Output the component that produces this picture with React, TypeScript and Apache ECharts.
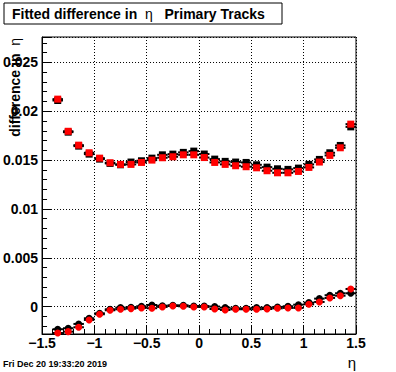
import React, { useEffect, useRef } from "react";
import * as echarts from "echarts";

// bin centres in eta
const eta = [
  -1.35, -1.25, -1.15, -1.05, -0.95, -0.85, -0.75, -0.65, -0.55, -0.45,
  -0.35, -0.25, -0.15, -0.05, 0.05, 0.15, 0.25, 0.35, 0.45, 0.55,
  0.65, 0.75, 0.85, 0.95, 1.05, 1.15, 1.25, 1.35, 1.45,
];
const binHalfWidth = 0.05;

// upper band (squares)
const topBlack = [
  0.0211, 0.01786, 0.01643, 0.01561, 0.0151, 0.01466, 0.01452, 0.0148, 0.01493, 0.0152,
  0.01554, 0.01561, 0.01579, 0.01592, 0.01562, 0.0151, 0.01487, 0.0148, 0.01476, 0.01452,
  0.01428, 0.01411, 0.01405, 0.01418, 0.01456, 0.01507, 0.01575, 0.0165, 0.0184,
];
const topRed = [
  0.02124, 0.01795, 0.01653, 0.01575, 0.0152, 0.01473, 0.01456, 0.01456, 0.01476, 0.015,
  0.01524, 0.01534, 0.01554, 0.01554, 0.01526, 0.01476, 0.01456, 0.01442, 0.01432, 0.01421,
  0.01391, 0.0137, 0.0137, 0.01384, 0.01425, 0.0148, 0.01548, 0.01626, 0.01868,
];

// lower band (circles)
const bottomBlack = [
  -0.00231, -0.00221, -0.00177, -0.00119, -0.00068, -0.00027, -0.0001, -0.00006, 0.00004, 0.00017,
  0.0001, 0.00014, 0.00014, 0.00007, 0.00006, 0.00001, -0.0001, -0.00017, -0.00017, -0.0001,
  -0.0001, -0.00003, 0.00004, 0.0002, 0.00041, 0.00082, 0.00117, 0.00137, 0.00137,
];
const bottomRed = [
  -0.0027, -0.00256, -0.00211, -0.00136, -0.00078, -0.00037, -0.00027, -0.0002, -0.00013, -0.00016,
  -0.00003, 0.00007, 0.00004, -0.00003, -0.00003, -0.00024, -0.00034, -0.00027, -0.00027, -0.00027,
  -0.00024, -0.00017, -0.00013, -0.00013, 0.00024, 0.00048, 0.00089, 0.00112, 0.00181,
];

const xRange = [-1.5, 1.5];
const xStep = 0.5;
const yRange = [-0.0028, 0.0276];
const yStep = 0.005;

const titleText = "{b|Fitted difference in  }{s|η}{b|   Primary Tracks}";
const yTitle = "{b|difference in  }{s|η}";
const xTitle = "η";
const dateText = "Fri Dec 20 19:33:20 2019";

const FONT = '"Liberation Sans", Arial, Helvetica, sans-serif';

export default function App() {
  const ref = useRef<HTMLDivElement>(null);

  useEffect(() => {
    if (!ref.current) return;
    const chart = echarts.init(ref.current, null, { renderer: "svg" });
    const pairs = (ys: number[]) => eta.map((x, i) => [x, ys[i]]);

    const errSeries = (ys: number[], z: number) => ({
      type: "custom",
      data: pairs(ys),
      clip: false,
      silent: true,
      z,
      encode: { x: 0, y: 1 },
      renderItem: (_p: any, api: any) => {
        const x = api.value(0);
        const y = api.value(1);
        const a = api.coord([x - binHalfWidth, y]);
        const b = api.coord([x + binHalfWidth, y]);
        return {
          type: "line",
          shape: { x1: a[0], y1: a[1], x2: b[0], y2: b[1] },
          style: { stroke: "#000", lineWidth: 2 },
        };
      },
    });

    const markers = (ys: number[], symbol: string, color: string, z: number) => ({
      type: "scatter",
      data: pairs(ys),
      symbol,
      symbolSize: 7,
      itemStyle: { color, opacity: 1, borderWidth: 0 },
      clip: false,
      silent: true,
      z,
    });

    const labelStyle = {
      color: "#000",
      fontSize: 14,
      fontWeight: "bold" as const,
      fontFamily: FONT,
    };

    const rich = {
      b: { fontSize: 14, fontWeight: "bold", fontFamily: FONT, fill: "#000", color: "#000" },
      s: { fontSize: 14, fontWeight: "normal", fontFamily: FONT, fill: "#000", color: "#000" },
    };

    chart.setOption({
      animation: false,
      backgroundColor: "#fff",
      grid: {
        left: 40,
        top: 37,
        width: 316,
        height: 297,
        show: true,
        borderColor: "#000",
        borderWidth: 1,
        backgroundColor: "transparent",
      },
      xAxis: {
        type: "value",
        min: xRange[0],
        max: xRange[1],
        interval: xStep,
        axisLine: { show: true, onZero: false, lineStyle: { color: "#000", width: 1 } },
        axisTick: { show: true, inside: true, length: 9, lineStyle: { color: "#000" } },
        minorTick: { show: true, splitNumber: 5, length: 5, lineStyle: { color: "#000" } },
        splitLine: { show: true, lineStyle: { color: "#000", width: 1, type: [1, 2] } },
        axisLabel: {
          ...labelStyle,
          margin: 2,
          formatter: (v: number) => (v < 0 ? "\u2212" + String(Math.abs(v)) : String(v)),
        },
      },
      yAxis: {
        type: "value",
        min: yRange[0],
        max: yRange[1],
        minInterval: yStep,
        maxInterval: yStep,
        axisLine: { show: true, onZero: false, lineStyle: { color: "#000", width: 1 } },
        axisTick: { show: true, inside: true, length: 9, lineStyle: { color: "#000" } },
        minorTick: { show: true, splitNumber: 5, length: 5, lineStyle: { color: "#000" } },
        splitLine: { show: true, lineStyle: { color: "#000", width: 1, type: [1, 2] } },
        axisLabel: {
          ...labelStyle,
          margin: 4,
          showMinLabel: false,
          showMaxLabel: false,
          formatter: (v: number) => String(v),
        },
      },
      graphic: [
        {
          type: "rect",
          shape: { x: 4, y: 3, width: 278, height: 21 },
          style: { fill: "#fff", stroke: "#000", lineWidth: 1 },
          z: 100,
        },
        {
          type: "text",
          x: 12,
          y: 14,
          z: 101,
          style: {
            text: titleText,
            rich,
            fill: "#000",
            fontSize: 14,
            fontWeight: "bold",
            fontFamily: FONT,
            verticalAlign: "middle",
          },
        },
        {
          type: "text",
          x: 15,
          y: 38,
          rotation: Math.PI / 2,
          z: 101,
          style: {
            text: yTitle,
            rich,
            fill: "#000",
            fontSize: 14,
            fontWeight: "bold",
            fontFamily: FONT,
            align: "right",
            verticalAlign: "middle",
          },
        },
        {
          type: "text",
          x: 356,
          y: 362,
          z: 101,
          style: {
            text: xTitle,
            fill: "#000",
            fontSize: 15,
            fontFamily: FONT,
            align: "right",
            verticalAlign: "middle",
          },
        },
        {
          type: "text",
          x: 3,
          y: 364,
          z: 101,
          style: {
            text: dateText,
            fill: "#000",
            fontSize: 9,
            fontWeight: "bold",
            fontFamily: FONT,
            verticalAlign: "middle",
          },
        },
      ],
      series: [
        errSeries(topBlack, 2),
        errSeries(bottomBlack, 2),
        markers(topBlack, "rect", "#000", 3),
        markers(bottomBlack, "circle", "#000", 3),
        errSeries(topRed, 4),
        errSeries(bottomRed, 4),
        markers(topRed, "rect", "#ff0000", 5),
        markers(bottomRed, "circle", "#ff0000", 5),
      ],
    });

    return () => chart.dispose();
  }, []);

  return (
    <div
      ref={ref}
      style={{ position: "absolute", left: 0, top: 0, width: 396, height: 372, background: "#fff" }}
    />
  );
}
